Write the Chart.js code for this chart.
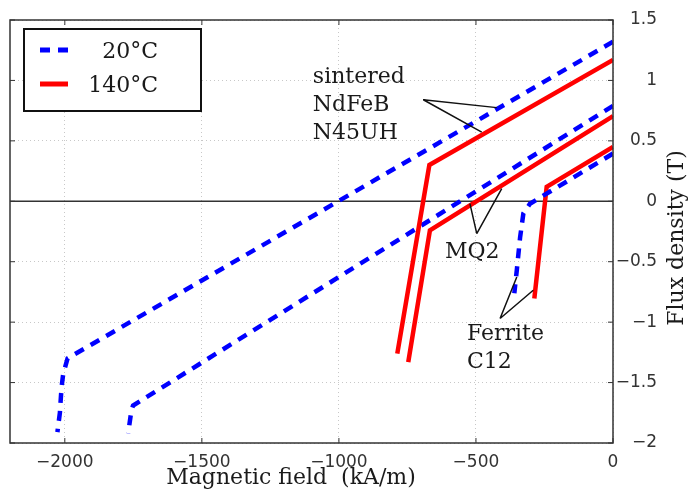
<!DOCTYPE html>
<html lang="en">
<head>
<meta charset="UTF-8">
<title>Demagnetization curves</title>
<script src="https://cdn.jsdelivr.net/npm/chart.js"></script>
<style>
  body { margin: 0; background: #fff; }
  .chart-container { position: relative; width: 692px; height: 491px; }
</style>
</head>
<body>
<div class="chart-container"><canvas id="chart"></canvas></div>
<script>
// H in kA/m, B in T
const xTicks = [-2000, -1500, -1000, -500, 0];
const yTicks = [-2, -1.5, -1, -0.5, 0, 0.5, 1, 1.5];

const ndfeb20H = [0, -1990, -2006, -2012, -2018, -2027];
const ndfeb20B = [1.32, -1.30, -1.43, -1.54, -1.75, -1.91];
const ndfeb140H = [0, -670, -787];
const ndfeb140B = [1.17, 0.30, -1.26];

const mq220H = [0, -1751, -1757, -1769];
const mq220B = [0.79, -1.69, -1.73, -1.92];
const mq2140H = [0, -668, -747];
const mq2140B = [0.705, -0.24, -1.33];

const ferrite20H = [0, -303, -327, -339, -351, -360];
const ferrite20B = [0.395, -0.02, -0.10, -0.30, -0.57, -0.76];
const ferrite140H = [0, -242, -287];
const ferrite140B = [0.45, 0.12, -0.805];

const legendLabels = ['20°C', '140°C'];
const xTitle = 'Magnetic field  (kA/m)';
const yTitle = 'Flux density (T)';

// annotation text + pointer lines, in data units
const notes = [
  { lines: ['sintered', 'NdFeB', 'N45UH'], at: [-1095, 0.98], apex: [-692, 0.84], tips: [[-424, 0.775], [-479, 0.573]] },
  { lines: ['MQ2'], at: [-613, -0.47], apex: [-497, -0.267], tips: [[-522, -0.02], [-406, 0.105]] },
  { lines: ['Ferrite', 'C12'], at: [-533, -1.15], apex: [-412, -0.97], tips: [[-351, -0.626], [-291, -0.736]] }
];

const BLUE = '#0000ff';
const RED = '#ff0000';
const SERIF = '"DejaVu Serif", serif';
const SANS = '"DejaVu Sans", sans-serif';

function pts(h, b) {
    return h.map((v, i) => ({ x: v, y: b[i] }));
}
function cold(label, h, b) {
    return { label: label, data: pts(h, b), borderColor: BLUE, borderWidth: 4.5, borderDash: [10, 8], pointRadius: 0, fill: false };
}
function hot(label, h, b) {
    return { label: label, data: pts(h, b), borderColor: RED, borderWidth: 4.5, pointRadius: 0, fill: false };
}
const minus = v => String(v).replace('-', '\u2212');

const decor = {
    id: 'decor',
    beforeDatasetsDraw(chart) {
        const { ctx, chartArea: a, scales: { y } } = chart;
        const y0 = y.getPixelForValue(0);
        ctx.save();
        ctx.strokeStyle = '#333';
        ctx.lineWidth = 1.5;
        ctx.beginPath();
        ctx.moveTo(a.left, y0);
        ctx.lineTo(a.right, y0);
        ctx.stroke();
        ctx.restore();
    },
    afterDraw(chart) {
        const { ctx, chartArea: a, scales: { x, y } } = chart;
        ctx.save();

        // frame with inward ticks
        ctx.strokeStyle = '#333';
        ctx.lineWidth = 1.5;
        ctx.strokeRect(a.left, a.top, a.right - a.left, a.bottom - a.top);
        ctx.lineWidth = 1;
        ctx.beginPath();
        xTicks.forEach(v => {
            const px = x.getPixelForValue(v);
            ctx.moveTo(px, a.bottom); ctx.lineTo(px, a.bottom - 5);
            ctx.moveTo(px, a.top); ctx.lineTo(px, a.top + 5);
        });
        yTicks.forEach(v => {
            const py = y.getPixelForValue(v);
            ctx.moveTo(a.left, py); ctx.lineTo(a.left + 5, py);
            ctx.moveTo(a.right, py); ctx.lineTo(a.right - 5, py);
        });
        ctx.stroke();

        // annotations
        ctx.fillStyle = '#1a1a1a';
        ctx.strokeStyle = '#111';
        ctx.lineWidth = 1.5;
        ctx.font = '22px ' + SERIF;
        ctx.textAlign = 'left';
        ctx.textBaseline = 'alphabetic';
        notes.forEach(n => {
            const ax = x.getPixelForValue(n.apex[0]), ay = y.getPixelForValue(n.apex[1]);
            ctx.beginPath();
            n.tips.forEach(t => {
                ctx.moveTo(ax, ay);
                ctx.lineTo(x.getPixelForValue(t[0]), y.getPixelForValue(t[1]));
            });
            ctx.stroke();
            const tx = x.getPixelForValue(n.at[0]), ty = y.getPixelForValue(n.at[1]);
            n.lines.forEach((s, i) => ctx.fillText(s, tx, ty + i * 28));
        });

        // legend
        const lx = a.left + 14, ly = a.top + 9;
        ctx.fillStyle = '#fff';
        ctx.fillRect(lx, ly, 177, 82);
        ctx.strokeStyle = '#111';
        ctx.lineWidth = 2;
        ctx.strokeRect(lx, ly, 177, 82);
        [0, 1].forEach((di, i) => {
            const ds = chart.data.datasets[di];
            const sy = ly + 21 + i * 34;
            ctx.strokeStyle = ds.borderColor;
            ctx.lineWidth = 5;
            ctx.setLineDash(ds.borderDash || []);
            ctx.beginPath();
            ctx.moveTo(lx + 16, sy);
            ctx.lineTo(lx + 44, sy);
            ctx.stroke();
            ctx.setLineDash([]);
            ctx.fillStyle = '#1a1a1a';
            ctx.textAlign = 'right';
            ctx.fillText(legendLabels[i], lx + 134, sy + 8);
        });

        // axis titles
        ctx.fillStyle = '#1a1a1a';
        ctx.textAlign = 'center';
        ctx.textBaseline = 'middle';
        ctx.fillText(xTitle, 291, 478);
        ctx.translate(677, 238);
        ctx.rotate(-Math.PI / 2);
        ctx.fillText(yTitle, 0, 0);
        ctx.restore();
    }
};

new Chart(document.getElementById('chart'), {
    type: 'line',
    data: {
        datasets: [
            cold(legendLabels[0], ndfeb20H, ndfeb20B),
            hot(legendLabels[1], ndfeb140H, ndfeb140B),
            cold(legendLabels[0], mq220H, mq220B),
            hot(legendLabels[1], mq2140H, mq2140B),
            cold(legendLabels[0], ferrite20H, ferrite20B),
            hot(legendLabels[1], ferrite140H, ferrite140B)
        ]
    },
    options: {
        responsive: true,
        maintainAspectRatio: false,
        animation: false,
        layout: { padding: { left: 10, top: 20, right: 35, bottom: 0 } },
        plugins: {
            legend: { display: false },
            tooltip: { enabled: false }
        },
        scales: {
            x: {
                type: 'linear',
                min: -2200,
                max: 0,
                afterBuildTicks: s => { s.ticks = xTicks.map(v => ({ value: v })); },
                afterFit: s => { s.height = 48; },
                ticks: { font: { family: SANS, size: 17 }, color: '#333', padding: 9, maxRotation: 0, callback: minus },
                grid: { color: '#c8c8c8', drawTicks: false },
                border: { display: false, dash: [1, 3] }
            },
            y: {
                type: 'linear',
                position: 'right',
                min: -2,
                max: 1.5,
                afterBuildTicks: s => { s.ticks = yTicks.map(v => ({ value: v })); },
                afterFit: s => { s.width = 44; },
                ticks: { font: { family: SANS, size: 17 }, color: '#333', padding: 3, crossAlign: 'far', callback: minus },
                grid: { color: '#c8c8c8', drawTicks: false },
                border: { display: false, dash: [1, 3] }
            }
        }
    },
    plugins: [decor]
});
</script>
</body>
</html>
